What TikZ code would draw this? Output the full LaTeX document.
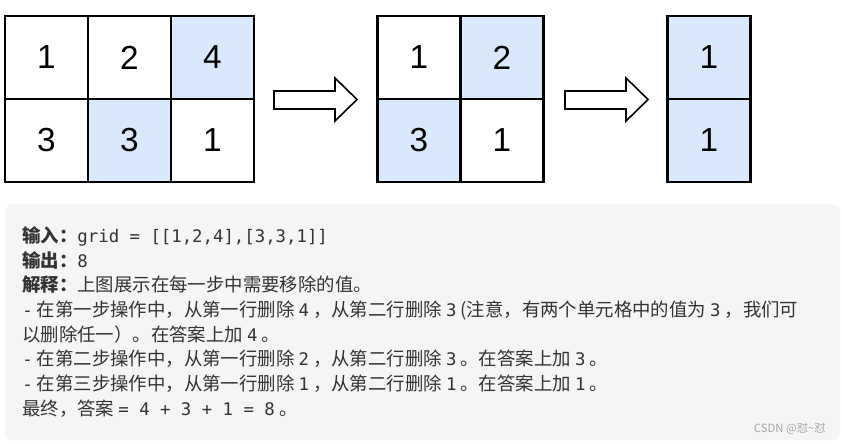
\documentclass[tikz,border=0pt]{standalone}
\usepackage{fontspec}
\setmainfont{Noto Sans CJK SC}
\setmonofont{DejaVu Sans Mono}
\newfontfamily\digitfont{Liberation Sans}
\usetikzlibrary{positioning}
\definecolor{cellblue}{HTML}{DAE8FC}
\definecolor{boxgray}{HTML}{F5F5F5}
\definecolor{txtgray}{HTML}{333333}
\newcommand\num[1]{{\ttfamily\fontsize{13}{15}\selectfont #1}}
\tikzset{
  cell/.style={draw, line width=2.2pt, minimum size=62.25pt, inner sep=0pt, font=\digitfont\fontsize{25}{30}\selectfont},
  hit/.style={cell, fill=cellblue},
  line/.style={anchor=base west, inner sep=0pt, text=txtgray, font=\fontsize{13.8}{16}\selectfont},
  blockarrow/.style={draw, line width=1.2pt, fill=white, line join=miter}
}
\begin{document}
\begin{tikzpicture}[x=0.75pt,y=0.75pt,yscale=-1,xscale=1]
\useasboundingbox (0,0) rectangle (842,443);

% grids
\node[cell] (a11) at (46.5,57.5) {1};
\node[cell] (a12) at (129.5,57.5) {2};
\node[hit]  (a13) at (212.5,57.5) {4};
\node[cell] (a21) at (46.5,140.5) {3};
\node[hit]  (a22) at (129.5,140.5) {3};
\node[cell] (a23) at (212.5,140.5) {1};

\node[cell] (b11) at (419,57.5) {1};
\node[hit]  (b12) at (502,57.5) {2};
\node[hit]  (b21) at (419,140.5) {3};
\node[cell] (b22) at (502,140.5) {1};

\node[hit] (c11) at (709,57.5) {1};
\node[hit] (c21) at (709,140.5) {1};

% arrows
\foreach \x in {274,565} {
  \draw[blockarrow] (\x,91) -- (\x+61,91) -- (\x+61,78) -- (\x+83,99.5)
    -- (\x+61,121) -- (\x+61,109) -- (\x,109) -- cycle;
}

% text box
\fill[boxgray, rounded corners=6pt] (5,204) rectangle (840,440);
\node[line] (l1) at (22,242) {\textbf{输入：}\num{grid = [[1,2,4],[3,3,1]]}};
\node[line] (l2) at (22,267) {\textbf{输出：}\num{8}};
\node[line] (l3) at (22,291) {\textbf{解释：}上图展示在每一步中需要移除的值。};
\node[line] (l4) at (22,316) {\num{-} 在第一步操作中，从第一行删除 \num{4} ，从第二行删除 \num{3} (注意，有两个单元格中的值为 \num{3} ，我们可};
\node[line] (l5) at (22,341) {以删除任一）。在答案上加 \num{4} 。};
\node[line] (l6) at (22,365) {\num{-} 在第二步操作中，从第一行删除 \num{2} ，从第二行删除 \num{3} 。在答案上加 \num{3} 。};
\node[line] (l7) at (22,390) {\num{-} 在第三步操作中，从第一行删除 \num{1} ，从第二行删除 \num{1} 。在答案上加 \num{1} 。};
\node[line] (l8) at (22,415) {最终，答案 \num{= 4 + 3 + 1 = 8} 。};
\node[anchor=base east, inner sep=0pt, text=gray!70, font=\fontsize{8.5}{10}\selectfont] (mark) at (826,432) {CSDN @怼\string~怼};

\end{tikzpicture}
\end{document}
